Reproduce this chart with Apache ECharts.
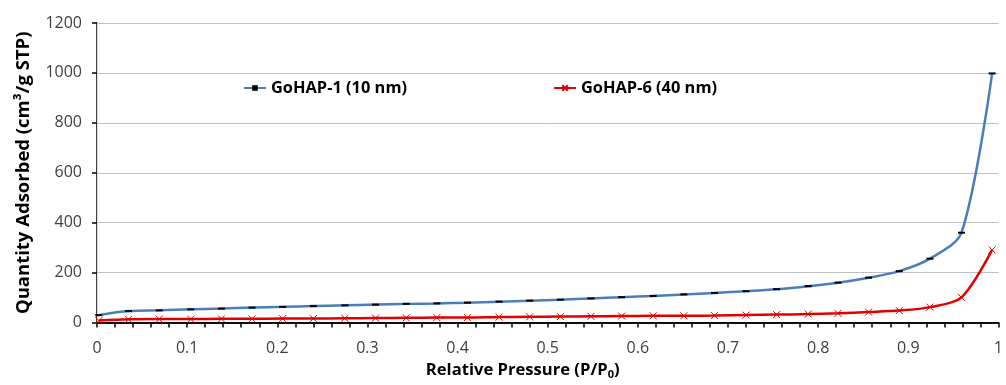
<!DOCTYPE html>
<html>
<head>
<meta charset="utf-8">
<script src="https://cdn.jsdelivr.net/npm/echarts@6/dist/echarts.min.js"></script>
<style>
  html, body { margin: 0; padding: 0; background: #fff; }
  #chart { width: 1006px; height: 385px; }
</style>
</head>
<body>
<div id="chart"></div>
<script>
// relative pressure P/P0 of each measured point
const pressure = [0.002, 0.035, 0.069, 0.104, 0.138, 0.172, 0.206, 0.240, 0.275, 0.309,
  0.343, 0.377, 0.411, 0.446, 0.480, 0.514, 0.548, 0.582, 0.617, 0.651,
  0.685, 0.720, 0.754, 0.789, 0.822, 0.856, 0.890, 0.924, 0.959, 0.993];

// quantity adsorbed (cm3/g STP)
const gohap1 = [30, 46, 49, 53, 56, 60, 63, 66, 69, 72,
  75, 77, 80, 84, 88, 92, 97, 102, 107, 113,
  119, 126, 134, 146, 160, 180, 206, 256, 360, 998];
const gohap6 = [8, 13, 14, 14, 15, 15, 16, 16, 17, 18,
  19, 20, 20, 22, 23, 24, 25, 26, 27, 27,
  28, 30, 32, 34, 37, 42, 48, 62, 101, 291];

const seriesNames = ["GoHAP-1 (10 nm)", "GoHAP-6 (40 nm)"];

const toPoints = (ys) => pressure.map((p, i) => [p, ys[i]]);

const labelColor = "#404040";
const fontFam = "'Open Sans', 'Noto Sans', sans-serif";

const legendText = { fontFamily: fontFam, fontWeight: "bold", fontSize: 16.4, color: "#000" };

const option = {
  animation: false,
  grid: { left: 97, right: 2, top: 23, bottom: 53, containLabel: false },
  legend: [
    {
      data: [seriesNames[0]],
      left: 238, top: 75,
      itemWidth: 22, itemHeight: 7, itemGap: 2,
      textStyle: legendText
    },
    {
      data: [seriesNames[1]],
      left: 548, top: 75,
      itemWidth: 22, itemHeight: 7, itemGap: 2,
      textStyle: legendText
    }
  ],
  xAxis: [
    {
      type: "value",
      min: 0, max: 1, interval: 0.1,
      name: "Relative Pressure (P/P{sub|0})",
      nameLocation: "middle",
      nameGap: 33,
      nameTextStyle: {
        fontFamily: fontFam, fontWeight: "bold", fontSize: 16.6, color: "#000",
        padding: [0, 50, 0, 0],
        rich: { sub: { fontFamily: fontFam, fontWeight: "bold", fontSize: 11, color: "#000", verticalAlign: "bottom", padding: [9, 0, 0, 0] } }
      },
      axisLine: { show: true, onZero: false, lineStyle: { color: "#000", width: 1.5 } },
      axisTick: { show: true, length: 5, lineStyle: { color: "#000", width: 1.5 } },
      minorTick: { show: true, splitNumber: 5, length: 5, lineStyle: { color: "#000", width: 1.5 } },
      axisLabel: {
        margin: 18, fontFamily: fontFam, fontSize: 16, color: labelColor,
        formatter: (v) => String(Math.round(v * 10) / 10)
      },
      splitLine: { show: false }
    },
    {
      type: "value", position: "top",
      min: 0, max: 1,
      axisLine: { show: true, lineStyle: { color: "#000", width: 1.5 } },
      axisTick: { show: false }, axisLabel: { show: false }, splitLine: { show: false }
    }
  ],
  yAxis: [
    {
      type: "value",
      min: 0, max: 1200, interval: 200,
      name: "Quantity Adsorbed (cm³/g STP)",
      nameLocation: "middle",
      nameGap: 64,
      nameTextStyle: { fontFamily: fontFam, fontWeight: "bold", fontSize: 18.5, color: "#000" },
      axisLine: { show: true, lineStyle: { color: "#000", width: 1.5 } },
      axisTick: { show: true, length: 5, lineStyle: { color: "#000", width: 1.5 } },
      axisLabel: {
        margin: 15, fontFamily: fontFam, fontSize: 16, color: labelColor,
        formatter: (v) => String(v)
      },
      splitLine: { show: true, lineStyle: { color: "#c0c0c0", width: 1 } }
    },
    {
      type: "value", position: "right",
      min: 0, max: 1200,
      axisLine: { show: true, lineStyle: { color: "#d9d9d9", width: 1 } },
      axisTick: { show: false }, axisLabel: { show: false }, splitLine: { show: false }
    }
  ],
  series: [
    {
      name: seriesNames[0],
      type: "line",
      data: toPoints(gohap1),
      smooth: 0.3,
      symbol: "rect",
      symbolSize: [7, 2],
      itemStyle: { color: "#000" },
      lineStyle: { color: "#4a7ebb", width: 2.5 },
      z: 3
    },
    {
      name: seriesNames[1],
      type: "line",
      data: toPoints(gohap6),
      smooth: 0.3,
      symbol: "path://M0,0L10,10M10,0L0,10",
      symbolSize: 7,
      itemStyle: { color: "none", borderColor: "#e00000", borderWidth: 1 },
      lineStyle: { color: "#e00000", width: 2.5 },
      z: 2
    }
  ]
};

const chart = echarts.init(document.getElementById("chart"), null, { renderer: "canvas" });
chart.setOption(option);
</script>
</body>
</html>
